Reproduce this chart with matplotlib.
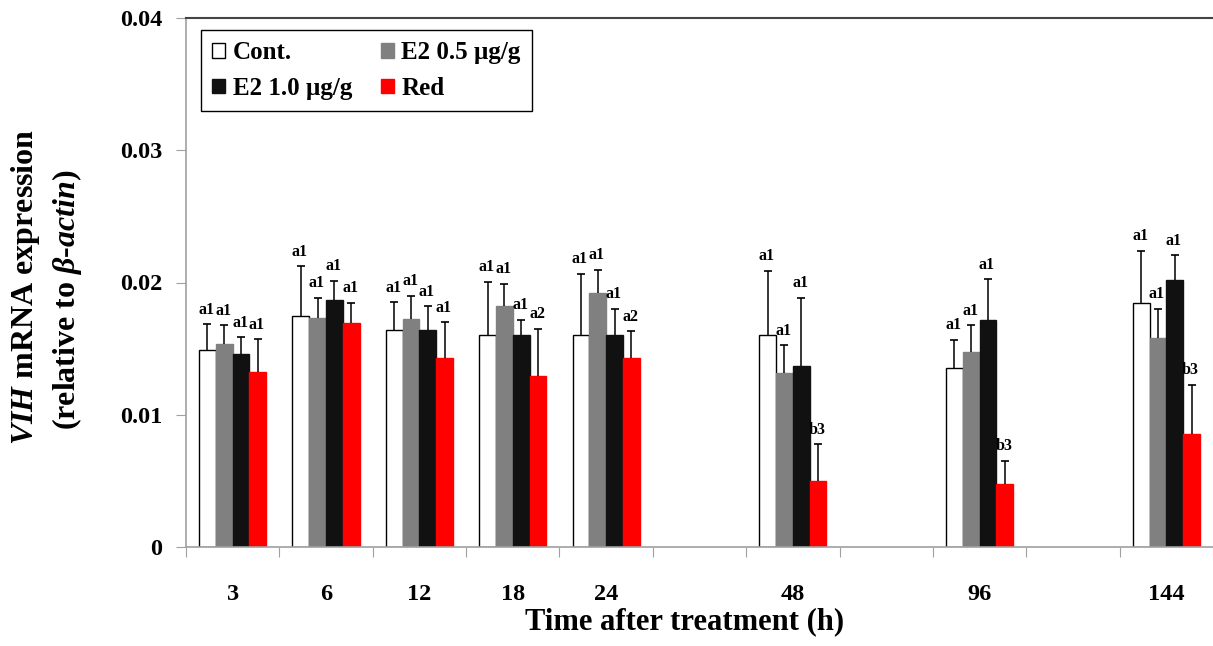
import matplotlib
matplotlib.use("Agg")
import matplotlib.pyplot as plt
from matplotlib.patches import Patch
import numpy as np

plt.rcParams['font.family'] = ['Liberation Serif', 'DejaVu Serif']
plt.rcParams['font.weight'] = 'bold'
plt.rcParams['mathtext.fontset'] = 'custom'
plt.rcParams['mathtext.rm'] = 'Liberation Serif:bold'
plt.rcParams['mathtext.it'] = 'Liberation Serif:italic:bold'

nan = np.nan

# time points (empty slots are gaps on the axis)
categories = ["3", "6", "12", "18", "24", "", "48", "", "96", "", "144"]

cont = [0.01486, 0.01748, 0.01642, 0.01605, 0.01605, nan, 0.01605, nan, 0.01353, nan, 0.01846]
e2_05 = [0.01534, 0.01730, 0.01723, 0.01819, 0.01919, nan, 0.01315, nan, 0.01471, nan, 0.01579]
e2_10 = [0.01463, 0.01864, 0.01642, 0.01605, 0.01605, nan, 0.01365, nan, 0.01713, nan, 0.02018]
red = [0.01327, 0.01695, 0.01428, 0.01292, 0.01428, nan, 0.00501, nan, 0.00476, nan, 0.00851]

cont_err = [0.00197, 0.00375, 0.00207, 0.00400, 0.00460, nan, 0.00483, nan, 0.00214, nan, 0.00393]
e2_05_err = [0.00141, 0.00152, 0.00176, 0.00171, 0.00179, nan, 0.00209, nan, 0.00204, nan, 0.00222]
e2_10_err = [0.00124, 0.00151, 0.00177, 0.00115, 0.00196, nan, 0.00517, nan, 0.00312, nan, 0.00189]
red_err = [0.00242, 0.00151, 0.00272, 0.00358, 0.00204, nan, 0.00275, nan, 0.00176, nan, 0.00376]

cont_lab = ["a1", "a1", "a1", "a1", "a1", "", "a1", "", "a1", "", "a1"]
e2_05_lab = ["a1", "a1", "a1", "a1", "a1", "", "a1", "", "a1", "", "a1"]
e2_10_lab = ["a1", "a1", "a1", "a1", "a1", "", "a1", "", "a1", "", "a1"]
red_lab = ["a1", "a1", "a1", "a2", "a2", "", "b3", "", "b3", "", "b3"]

series = [
    ("Cont.", cont, cont_err, cont_lab, "white", "black"),
    ("E2 0.5 \u00b5g/g", e2_05, e2_05_err, e2_05_lab, "#808080", "#808080"),
    ("E2 1.0 \u00b5g/g", e2_10, e2_10_err, e2_10_lab, "#111111", "#111111"),
    ("Red", red, red_err, red_lab, "#ff0000", "#ff0000"),
]

fig = plt.figure(figsize=(12.13, 6.46), dpi=100)
ax = fig.add_axes([186 / 1213, 99 / 646, 1027 / 1213, 529 / 646])

x = np.arange(len(categories))
w = 0.18
for i, (name, vals, errs, labs, fc, ec) in enumerate(series):
    xs = x + (i - 1.5) * w
    vals = np.array(vals)
    errs = np.array(errs)
    ax.bar(xs, vals, w, color=fc, edgecolor=ec, linewidth=1.0, zorder=2)
    # upper error bar only
    ax.vlines(xs, vals, vals + errs, color="black", linewidth=1.1, zorder=3)
    ax.plot(xs, vals + errs, linestyle="none", marker="_", markersize=6,
            markeredgewidth=1.2, color="black", zorder=3)
    for xi, v, e, t in zip(xs, vals, errs, labs):
        if t and not np.isnan(v):
            ax.text(xi - 0.01, v + e + 0.0005, t, ha="center", va="bottom",
                    fontsize=11.5, fontweight="bold")

ax.set_xlim(-0.5, len(categories) - 0.5)
ax.set_ylim(0, 0.04)
ax.set_yticks([0, 0.01, 0.02, 0.03, 0.04])
ax.set_yticklabels(["0", "0.01", "0.02", "0.03", "0.04"])
ax.set_xticks(np.arange(len(categories) + 1) - 0.5)
ax.set_xticklabels([])
ax.set_xticks(x, minor=True)
ax.set_xticklabels(categories, minor=True)
ax.tick_params(axis="x", which="major", length=7, color="#a0a0a0", direction="out")
ax.tick_params(axis="x", which="minor", length=0, pad=27, labelsize=17.5)
ax.tick_params(axis="y", length=7, color="#a0a0a0", pad=10, labelsize=17.5)

for s in ["left", "bottom"]:
    ax.spines[s].set_color("#a0a0a0")
    ax.spines[s].set_linewidth(1.2)
ax.spines["top"].set_color("#444444")
ax.spines["top"].set_linewidth(1.5)
ax.spines["right"].set_color("#e0e0e0")

handles = [Patch(facecolor=s[4], edgecolor=("black" if s[4] == "white" else s[4]), label=s[0])
           for s in series]
order = [0, 2, 1, 3]
leg = ax.legend([handles[k] for k in order], [handles[k].get_label() for k in order],
                ncol=2, loc="upper left", bbox_to_anchor=(0.0146, 0.977),
                borderaxespad=0, fancybox=False, edgecolor="black", framealpha=1,
                prop={"size": 18, "weight": "bold"}, handlelength=0.52, handleheight=0.5,
                handletextpad=0.3, columnspacing=1.15, labelspacing=0.5, borderpad=0.45)
leg.get_frame().set_linewidth(1.0)

fig.text(685 / 1213, 1 - 622 / 646, "Time after treatment (h)", ha="center", va="center",
         fontsize=22, fontweight="bold")
fig.text(26 / 1213, 1 - 287 / 646, r"$\it{VIH}$ mRNA expression", rotation=90,
         ha="center", va="center", fontsize=23, fontweight="bold")
fig.text(67 / 1213, 1 - 300 / 646, r"(relative to $\it{\beta}$-$\it{actin}$)", rotation=90,
         ha="center", va="center", fontsize=23, fontweight="bold")

fig.savefig("out.png", dpi=100)
